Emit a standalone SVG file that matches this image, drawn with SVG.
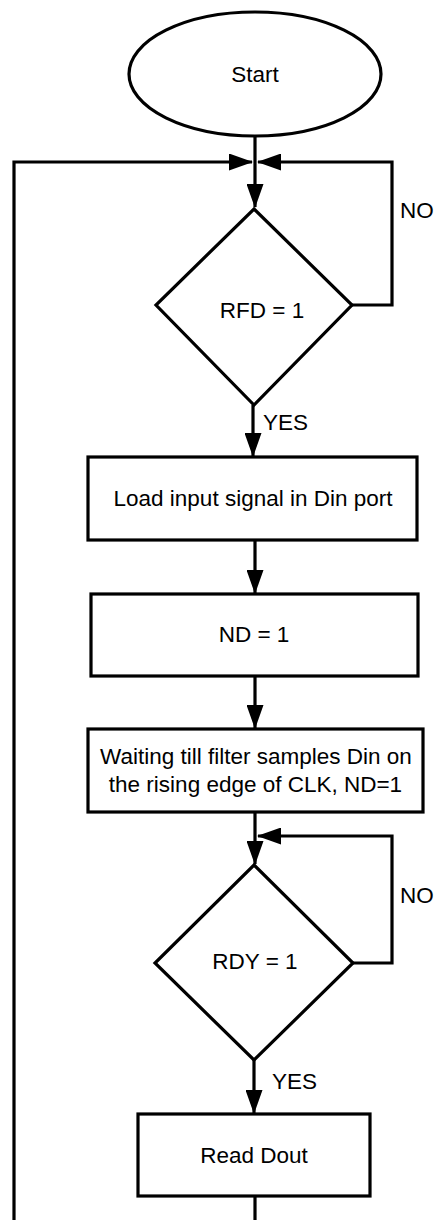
<svg xmlns="http://www.w3.org/2000/svg" width="434" height="1220" viewBox="0 0 434 1220">
<style>
.shape{fill:#fff;stroke:#000;stroke-width:3.2}
.line{fill:none;stroke:#000;stroke-width:3.2}
text{font-family:"Liberation Sans",Arial,sans-serif;font-size:22.5px;fill:#000}
.c{text-anchor:middle}
</style>
<defs>
<marker id="arr" viewBox="0 0 24 17" refX="23" refY="8.5" markerWidth="24" markerHeight="17" markerUnits="userSpaceOnUse" orient="auto">
<path d="M0,0 L24,8.5 L0,17 Z" fill="#000"/>
</marker>
</defs>
<rect width="434" height="1220" fill="#fff"/>
<g id="connectors">
<path class="line" d="M255,136 L255,207" marker-end="url(#arr)"/>
<path class="line" d="M255,1196 L255,1220"/>
<path class="line" d="M14,1220 L14,162 L252,162" marker-end="url(#arr)"/>
<path class="line" d="M352,305 L392,305 L392,162 L258,162" marker-end="url(#arr)"/>
<path class="line" d="M253,405 L253,456" marker-end="url(#arr)"/>
<path class="line" d="M255,540 L255,593" marker-end="url(#arr)"/>
<path class="line" d="M255,676 L255,728" marker-end="url(#arr)"/>
<path class="line" d="M255,812 L255,864" marker-end="url(#arr)"/>
<path class="line" d="M353,963 L392,963 L392,836 L258,836" marker-end="url(#arr)"/>
<path class="line" d="M254,1060 L254,1113" marker-end="url(#arr)"/>
<text x="400" y="218">NO</text>
<text x="263" y="430">YES</text>
<text x="400" y="903">NO</text>
<text x="272" y="1089">YES</text>
</g>
<g id="start">
<ellipse class="shape" cx="255" cy="74" rx="126" ry="62"/>
<text class="c" x="255" y="82">Start</text>
</g>
<g id="rfd">
<polygon class="shape" points="254,209 352,305 254,405 156,305"/>
<text class="c" x="262" y="318">RFD = 1</text>
</g>
<g id="load">
<rect class="shape" x="88" y="457" width="329" height="83"/>
<text class="c" x="253" y="506">Load input signal in Din port</text>
</g>
<g id="nd">
<rect class="shape" x="91" y="594" width="327" height="82"/>
<text class="c" x="254" y="642">ND = 1</text>
</g>
<g id="wait">
<rect class="shape" x="88" y="729" width="335" height="83"/>
<text class="c" x="256" y="764">Waiting till filter samples Din on</text>
<text class="c" x="255.5" y="792">the rising edge of CLK, ND=1</text>
</g>
<g id="rdy">
<polygon class="shape" points="254,865 353,963 254,1060 155,963"/>
<text class="c" x="255" y="969">RDY = 1</text>
</g>
<g id="read">
<rect class="shape" x="138" y="1114" width="232" height="82"/>
<text class="c" x="254" y="1163">Read Dout</text>
</g>
</svg>
